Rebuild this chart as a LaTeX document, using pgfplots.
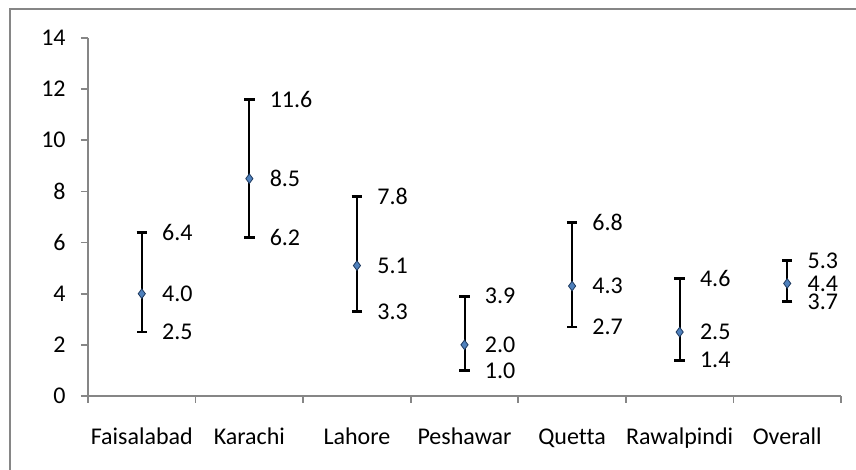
\documentclass[border=0pt]{standalone}
\usepackage{pgfplots}
\pgfplotsset{compat=1.18}
\usepackage{pgfplotstable}
\usepackage{fontspec}
\setmainfont{Carlito}[Ligatures=NoCommon]
\definecolor{axgrey}{HTML}{868686}
\definecolor{mblue}{HTML}{4F81BD}
\definecolor{mdark}{HTML}{1F3A5F}
\pgfplotstableread{
x  y    ep   em   lo   hi   ly    lm    lh
0  4.0  2.4  1.5  2.5  6.4  4.0   2.5   6.4
1  8.5  3.1  2.3  6.2  11.6 8.5   6.2   11.6
2  5.1  2.7  1.8  3.3  7.8  5.1   3.3   7.8
3  2.0  1.9  1.0  1.0  3.9  2.0   1.0   3.9
4  4.3  2.5  1.6  2.7  6.8  4.3   2.7   6.8
5  2.5  2.1  1.1  1.4  4.6  2.5   1.4   4.6
6  4.4  0.9  0.7  3.7  5.3  4.4   3.7   5.3
}\data
\begin{document}
\fontsize{12}{14}\selectfont
\begin{tikzpicture}
\begin{axis}[
  at={(0,0)}, anchor=south west,
  width=376.5pt, height=179pt, scale only axis,
  xmin=-0.5, xmax=6.5, ymin=0, ymax=14,
  axis x line*=bottom, axis y line*=left,
  axis line style={draw=axgrey, line width=0.8pt},
  every tick/.style={draw=axgrey, line width=0.8pt},
  tick align=outside,
  ytick={0,2,...,14},
  xtick={0,...,6},
  xticklabels={Faisalabad,Karachi,Lahore,Peshawar,Quetta,Rawalpindi,Overall},
  major x tick style={draw=none},
  minor xtick={-0.5,0.5,...,6.5},
  minor tick length=3.5pt,
  major tick length=3.5pt,
  /pgf/number format/assume math mode=true,
  ticklabel style={font=\fontsize{12}{14}\selectfont},
  xticklabel style={yshift=-8pt, text height=8.8pt, text depth=2.6pt},
  yticklabel style={xshift=-3.5pt},
  clip=false,
  nodes near coords style={font=\fontsize{12}{14}\selectfont, anchor=west, inner sep=0pt, xshift=10pt},
]
\addplot[draw=none, mark=none,
  error bars/.cd, y dir=both, y explicit,
  error bar style={black, line width=1pt},
  error mark options={rotate=90, mark size=2.6pt, line width=1.4pt, black}]
  table[x=x, y=y, y error plus=ep, y error minus=em] {\data};
\addplot[only marks, mark=diamond*, mark size=2.4pt,
  mark options={fill=mblue, draw=mdark, line width=0.4pt},
  nodes near coords, point meta=explicit symbolic,
  visualization depends on={\thisrow{ly} \as \lab},
  nodes near coords={\pgfmathprintnumber[fixed, fixed zerofill, precision=1]{\lab}}]
  table[x=x, y=y, meta=ly] {\data};
\addplot[draw=none, mark=none, nodes near coords, point meta=explicit symbolic,
  visualization depends on={\thisrow{lm} \as \lab},
  nodes near coords={\pgfmathprintnumber[fixed, fixed zerofill, precision=1]{\lab}}]
  table[x=x, y=lo, meta=lm] {\data};
\addplot[draw=none, mark=none, nodes near coords, point meta=explicit symbolic,
  visualization depends on={\thisrow{lh} \as \lab},
  nodes near coords={\pgfmathprintnumber[fixed, fixed zerofill, precision=1]{\lab}}]
  table[x=x, y=hi, meta=lh] {\data};
\end{axis}
\draw[axgrey, line width=1pt] (-39pt,-60pt) -- (-39pt,193.5pt) -- (420pt,193.5pt);
\pgfresetboundingbox
\path (-44pt,-37pt) rectangle (384pt,198pt);
\end{tikzpicture}
\end{document}
